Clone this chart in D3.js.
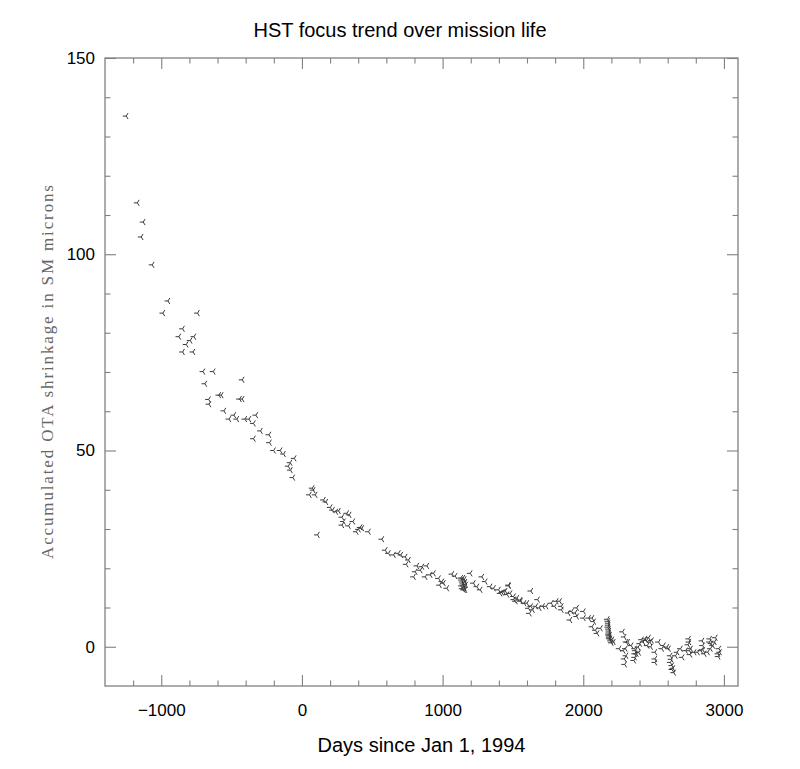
<!DOCTYPE html>
<html><head><meta charset="utf-8">
<script src="https://cdn.jsdelivr.net/npm/d3@7"></script>
<style>body{margin:0;background:#fff}</style>
</head><body>
<svg id="chart" width="800" height="769"></svg>
<script>
// ---- data ----
const days = [
-1249,-1170,-1128,-1142,-1064,-952,-988,-742,-848,-874,-767,-794,-822,-848,-774,-703,-630,-424,-689,-590,
-573,-443,-424,-663,-660,-554,-483,-518,-462,-405,-376,-327,-344,-294,-234,-344,-230,-201,-154,-130,
-54,-83,-97,-81,-64,74,81,54,95,154,171,202,218,242,261,320,337,285,296,363,
285,332,415,403,387,427,474,111,569,593,616,652,687,704,735,758,742,818,854,889,
842,806,794,877,913,936,972,996,1007,979,1031,1067,1090,1130,1135,1140,1145,1150,1155,1160,
1135,1145,1150,1160,1140,1165,1155,1197,1220,1245,1268,1280,1304,1339,1363,1398,1410,1434,1469,1481,
1505,1529,1552,1600,1611,1618,1422,1446,1471,1459,1507,1519,1555,1580,1628,1640,1628,1664,1676,1688,
1712,1737,1773,1797,1809,1833,1845,1845,1894,1906,1918,1942,1954,1954,2002,2002,2039,2063,2075,2063,
2087,2099,2123,2175,2178,2180,2182,2185,2190,2195,2200,2178,2183,2188,2205,2215,2172,2176,2180,2186,
2280,2292,2305,2256,2300,2305,2292,2317,2341,2366,2366,2366,2378,2390,2402,2426,2450,2474,2486,2510,
2510,2510,2535,2559,2571,2595,2607,2619,2619,2631,2644,2656,2668,2692,2704,2728,2752,2764,2789,2813,
2837,2849,2861,2885,2897,2909,2921,2933,2958,2970,2360,2370,2625,2630,2638,2845,2850,2900,2905,2940,
2960,2965,2745,2750,2755,2760,2440,2455,2465,2480,2395,2415,2285,2295
];
const shrinkage = [
135.2,113.1,108.2,104.4,97.3,88.1,85.0,85.0,81.0,79.0,79.0,78.0,77.0,75.1,75.1,70.1,70.1,68.0,67.0,64.1,
64.1,63.1,63.1,63.0,61.8,60.1,59.0,58.0,58.0,58.0,58.0,59.0,56.9,55.0,54.0,53.0,52.0,50.0,50.0,49.1,
48.0,46.9,46.0,45.0,43.1,40.4,39.9,38.7,38.7,37.4,36.9,35.5,34.8,34.4,34.6,34.0,33.6,33.0,31.9,31.9,
31.0,30.8,30.4,29.9,29.3,30.2,29.3,28.5,27.4,24.6,23.8,23.4,23.8,23.4,22.9,22.1,21.0,20.6,20.4,20.6,
19.5,19.1,17.8,17.8,18.3,18.7,17.4,16.6,16.2,15.7,14.9,18.5,18.0,17.5,17.0,16.5,16.0,15.5,15.0,14.5,
15.5,17.5,14.5,16.5,14.8,15.8,17.2,18.7,16.2,15.3,14.5,17.8,16.6,15.3,14.9,14.5,13.6,14.0,15.7,13.6,
12.8,12.4,11.9,11.1,9.8,8.5,13.8,14.2,15.5,13.3,12.0,11.6,11.6,11.1,10.3,9.4,14.2,10.3,12.0,9.9,
10.3,10.3,11.1,10.3,11.6,11.6,10.3,9.4,8.6,6.8,9.0,8.6,7.7,9.9,9.0,7.3,7.3,7.3,6.4,5.1,
4.2,3.4,4.7,6.5,5.5,4.5,3.5,2.5,2.0,1.5,1.0,6.0,4.0,3.0,1.8,1.2,7.0,5.0,3.0,2.2,
3.8,2.5,1.2,-0.5,-0.5,-2.3,-3.1,1.2,0.3,-0.5,-1.8,-2.7,-1.8,-0.1,0.8,1.2,1.6,1.2,1.6,-1.4,
-3.1,-4.0,1.2,-0.5,0.3,-0.1,-0.5,-2.3,-4.0,-5.8,-6.6,-2.3,-1.4,-0.5,-2.7,-1.0,1.2,-0.5,-1.4,-1.4,
-1.0,0.3,-1.8,-1.4,1.2,0.8,0.3,1.2,-1.8,-1.4,-3.5,-1.0,-3.2,-4.8,-5.5,1.5,-0.8,2.0,-0.5,2.3,
-2.5,-0.5,0.5,2.0,-1.0,-2.0,2.0,0.3,2.3,0.0,-1.5,1.8,-1.0,-4.5
];
const xDomain = [-1400, 3100];
const yDomain = [-10, 150];
const xMajorTicks = [-1000, 0, 1000, 2000, 3000];
const yMajorTicks = [0, 50, 100, 150];
const xMinorTicks = [-1200,-800,-600,-400,-200,200,400,600,800,1200,1400,1600,1800,2200,2400,2600,2800];
const yMinorTicks = [10,20,30,40,60,70,80,90,110,120,130,140];
const titleText = "HST focus trend over mission life";
const xLabelText = "Days since Jan 1, 1994";
const yLabelText = "Accumulated OTA shrinkage in SM microns";

// ---- layout ----
const L = 105, R = 738, T = 58, B = 686;
const svg = d3.select("#chart");
const x = d3.scaleLinear().domain(xDomain).range([L, R]);
const y = d3.scaleLinear().domain(yDomain).range([B, T]);
const sans = "'Liberation Sans', Arial, Helvetica, sans-serif";
const axisCol = "#808080";

function styleAxis(g) {
  g.select(".domain").remove();
  g.selectAll(".tick line").attr("stroke", axisCol).attr("stroke-width", 1.1);
  g.selectAll(".tick text").attr("fill", "#000").style("font-family", sans).style("font-size", "17px");
}

// bottom axis (labels)
svg.append("g").attr("transform", `translate(0,${B})`)
  .call(d3.axisBottom(x).tickValues(xMajorTicks).tickSize(-11).tickPadding(18).tickFormat(d3.format("d")))
  .call(styleAxis);
svg.append("g").attr("transform", `translate(0,${B})`)
  .call(d3.axisBottom(x).tickValues(xMinorTicks).tickSize(-5.5).tickFormat(""))
  .call(styleAxis);
// top axis
svg.append("g").attr("transform", `translate(0,${T})`)
  .call(d3.axisTop(x).tickValues(xMajorTicks).tickSize(-11).tickFormat(""))
  .call(styleAxis);
svg.append("g").attr("transform", `translate(0,${T})`)
  .call(d3.axisTop(x).tickValues(xMinorTicks).tickSize(-5.5).tickFormat(""))
  .call(styleAxis);
// left axis (labels)
svg.append("g").attr("transform", `translate(${L},0)`)
  .call(d3.axisLeft(y).tickValues(yMajorTicks).tickSize(-11).tickPadding(10).tickFormat(d3.format("d")))
  .call(styleAxis);
svg.append("g").attr("transform", `translate(${L},0)`)
  .call(d3.axisLeft(y).tickValues(yMinorTicks).tickSize(-5.5).tickFormat(""))
  .call(styleAxis);
// right axis
svg.append("g").attr("transform", `translate(${R},0)`)
  .call(d3.axisRight(y).tickValues(yMajorTicks).tickSize(-11).tickFormat(""))
  .call(styleAxis);
svg.append("g").attr("transform", `translate(${R},0)`)
  .call(d3.axisRight(y).tickValues(yMinorTicks).tickSize(-5.5).tickFormat(""))
  .call(styleAxis);

// frame
svg.append("rect").attr("x", L).attr("y", T).attr("width", R - L).attr("height", B - T)
  .attr("fill", "none").attr("stroke", axisCol).attr("stroke-width", 1.3);

// points: three-armed marker, stem to the left
const marker = "M-3.5,0L0,0M0,0L1.8,-3M0,0L1.8,3";
svg.append("g").selectAll("path").data(days.map((d, i) => [d, shrinkage[i]]))
  .join("path")
  .attr("transform", d => `translate(${x(d[0])},${y(d[1])})`)
  .attr("d", marker)
  .attr("fill", "none").attr("stroke", "#3a3a3a").attr("stroke-width", 1);

// title
svg.append("text").attr("x", 400).attr("y", 37).attr("text-anchor", "middle")
  .style("font-family", sans).style("font-size", "20px").attr("fill", "#000").text(titleText);
// x label
svg.append("text").attr("x", (L + R) / 2).attr("y", 752).attr("text-anchor", "middle")
  .style("font-family", sans).style("font-size", "20px").attr("fill", "#000").text(xLabelText);
// y label
svg.append("text").attr("transform", `translate(53,${(T + B) / 2}) rotate(-90)`)
  .attr("text-anchor", "middle")
  .attr("textLength", 374).attr("lengthAdjust", "spacing")
  .style("font-family", "'Liberation Serif', 'Times New Roman', serif").style("font-size", "17px")
  .attr("fill", "#666").text(yLabelText);
</script>
</body></html>
